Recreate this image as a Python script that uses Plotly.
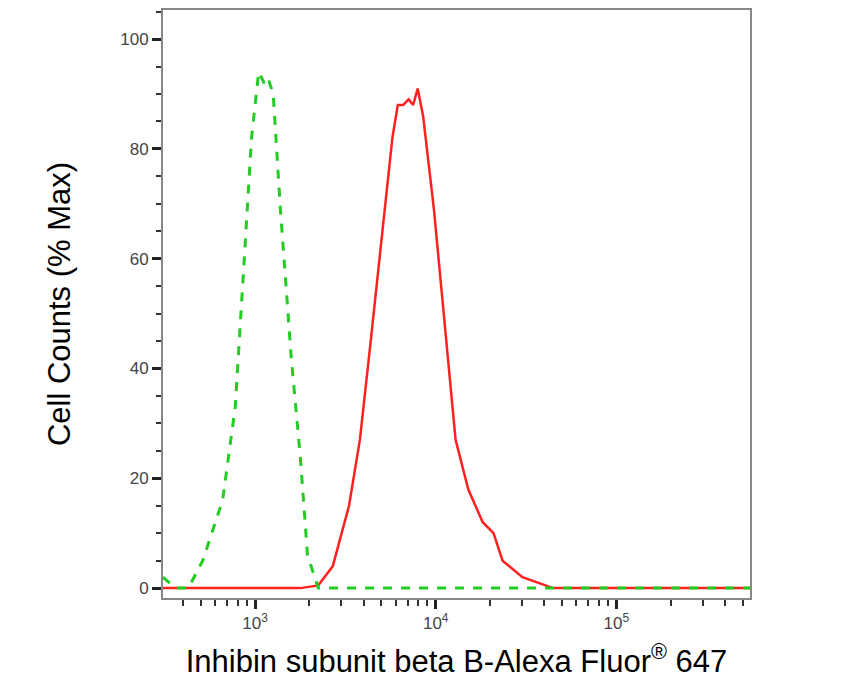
import plotly.graph_objects as go

green_log = [2.49, 2.56, 2.63, 2.71, 2.82, 2.89, 2.94, 2.98, 3.02, 3.05, 3.07, 3.10, 3.14, 3.20, 3.25, 3.29, 3.35, 5.74]
green_val = [2, 0, 0, 5, 16, 33, 60, 82, 94, 92, 93, 90, 69, 42, 24, 6, 0, 0]
red_log = [2.49, 3.25, 3.35, 3.43, 3.52, 3.58, 3.64, 3.71, 3.76, 3.79, 3.82, 3.85, 3.875, 3.90, 3.93, 3.99,
           4.06, 4.11, 4.18, 4.26, 4.32, 4.37, 4.48, 4.60, 4.65, 5.74]
red_val = [0, 0, 0.5, 4, 15, 27, 45, 66, 82, 88, 88, 89, 88, 91, 86, 69,
           44, 27, 18, 12, 10, 5, 2, 0.5, 0, 0]
x_tickvals = [1e3, 1e4, 1e5]
x_ticktext = ["10<sup>3</sup>", "10<sup>4</sup>", "10<sup>5</sup>"]
y_ticks = [0, 20, 40, 60, 80, 100]

fig = go.Figure()
fig.add_trace(go.Scatter(x=[10 ** v for v in red_log], y=red_val, mode="lines",
                         line=dict(color="#ff2020", width=2.5)))
fig.add_trace(go.Scatter(x=[10 ** v for v in green_log], y=green_val, mode="lines",
                         line=dict(color="#22cc22", width=3, dash="dash")))
fig.update_layout(
    width=861, height=700, showlegend=False, plot_bgcolor="white", paper_bgcolor="white",
    margin=dict(l=155, r=119, t=2, b=110, autoexpand=False),
    font=dict(family="Arial, Liberation Sans", color="black"),
)
fig.update_xaxes(type="log", range=[2.49, 5.74], tickvals=x_tickvals, ticktext=x_ticktext, automargin=False,
                 ticks="outside", ticklen=9, tickwidth=3, tickcolor="#222",
                 minor=dict(ticks="outside", ticklen=6, tickwidth=2, tickcolor="#333", dtick="D1", showgrid=False),
                 showline=True, linecolor="#888", linewidth=2, mirror=True, showgrid=False, zeroline=False,
                 tickfont=dict(size=17, color="#444"),
                 title=dict(text="Inhibin subunit beta B-Alexa Fluor<sup>®</sup> 647", font=dict(size=31), standoff=18))
fig.update_yaxes(range=[-1.8, 105.3], tickvals=y_ticks, ticks="outside", ticklen=9, tickwidth=3, tickcolor="#222",
                 automargin=False,
                 minor=dict(ticks="outside", ticklen=5, tickwidth=1.5, tickcolor="#333", dtick=5, showgrid=False),
                 showline=True, linecolor="#888", linewidth=2, mirror=True, showgrid=False, zeroline=False,
                 tickfont=dict(size=17, color="#444"),
                 title=dict(text="Cell Counts (% Max)", font=dict(size=31), standoff=40))
fig.write_html("out.html")
